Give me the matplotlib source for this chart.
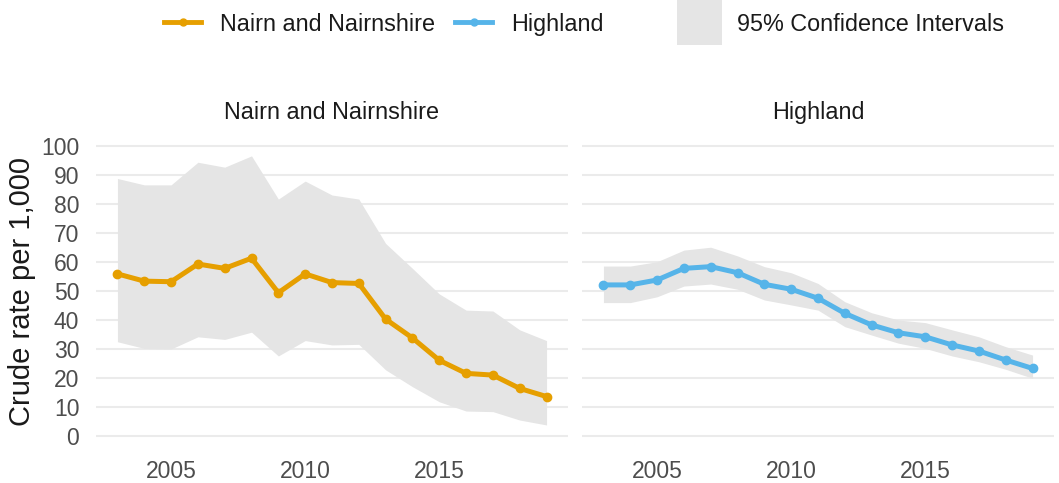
import matplotlib
matplotlib.use('Agg')
import matplotlib.pyplot as plt
from matplotlib.lines import Line2D
from matplotlib.patches import Rectangle

plt.rcParams['font.family'] = ['Liberation Sans', 'DejaVu Sans']

years = list(range(2003, 2020))

nairn_rate = [55.9, 53.4, 53.2, 59.3, 57.8, 61.3, 49.4, 55.9, 52.9, 52.6,
              40.3, 33.8, 26.1, 21.6, 21.0, 16.4, 13.6]
nairn_lower = [32.5, 30.2, 30.0, 34.2, 33.3, 35.8, 27.6, 32.9, 31.4, 31.6,
               22.8, 17.0, 11.8, 8.6, 8.4, 5.5, 3.8]
nairn_upper = [88.8, 86.6, 86.6, 94.4, 92.7, 96.6, 81.7, 87.9, 83.1, 81.7,
               66.4, 57.8, 49.0, 43.4, 43.1, 36.6, 32.9]

highland_rate = [52.1, 52.1, 53.8, 57.8, 58.4, 56.3, 52.3, 50.6, 47.5, 42.3,
                 38.3, 35.6, 34.2, 31.4, 29.3, 26.2, 23.3]
highland_lower = [46.0, 46.0, 48.0, 51.7, 52.4, 50.6, 46.9, 45.2, 43.4, 37.7,
                  34.8, 32.0, 30.2, 27.6, 25.6, 23.0, 19.9]
highland_upper = [58.6, 58.6, 60.1, 64.1, 65.1, 62.1, 58.4, 56.3, 52.6, 46.3,
                  42.5, 40.0, 39.1, 36.6, 34.2, 30.8, 27.9]

panel_titles = ['Nairn and Nairnshire', 'Highland']
legend_labels = ['Nairn and Nairnshire', 'Highland', '95% Confidence Intervals']
x_ticks = [2005, 2010, 2015]
y_ticks = list(range(0, 101, 10))
y_label = 'Crude rate per 1,000'

ORANGE = '#E69F00'
BLUE = '#56B4E9'
RIBBON = '#E5E5E5'
GRID = '#EBEBEB'
TICK_COL = '#4D4D4D'
TEXT_COL = '#1A1A1A'

W, H = 1059, 483
fig = plt.figure(figsize=(W / 100, H / 100), dpi=100)

bottom = (H - 450.5) / H
height = 319 / H
ax1 = fig.add_axes([96 / W, bottom, 472 / W, height])
ax2 = fig.add_axes([582 / W, bottom, 472 / W, height])

series = [
    (ax1, nairn_rate, nairn_lower, nairn_upper, ORANGE, panel_titles[0]),
    (ax2, highland_rate, highland_lower, highland_upper, BLUE, panel_titles[1]),
]

for ax, rate, lo, hi, col, title in series:
    ax.fill_between(years, lo, hi, color=RIBBON, linewidth=0, zorder=2)
    ax.plot(years, rate, color=col, linewidth=3.6, marker='o', markersize=6,
            zorder=3, solid_capstyle='round')
    ax.set_xlim(2002.2, 2019.8)
    ax.set_ylim(-5, 105)
    ax.set_xticks(x_ticks)
    ax.set_yticks(y_ticks)
    ax.set_xticklabels([str(t) for t in x_ticks])
    ax.grid(axis='y', color=GRID, linewidth=1.5, zorder=0)
    ax.grid(axis='x', visible=False)
    ax.set_axisbelow(True)
    for s in ax.spines.values():
        s.set_visible(False)
    ax.tick_params(axis='both', length=0, labelsize=16.5, labelcolor=TICK_COL)
    ax.tick_params(axis='x', pad=7)
    ax.tick_params(axis='y', pad=12)
    ax.set_title(title, fontsize=16.8, color=TEXT_COL, pad=9)
    ax.set_facecolor('white')

ax1.set_yticklabels([str(t) for t in y_ticks])
ax2.tick_params(axis='y', labelleft=False)

fig.text(22 / W, 1 - 291 / H, y_label, rotation=90, ha='center', va='center',
         fontsize=21, color=TEXT_COL)

# Legend
yc = 1 - 22 / H
fig.add_artist(Line2D([164 / W, 201 / W], [yc, yc], transform=fig.transFigure,
                      color=ORANGE, linewidth=3.5))
fig.add_artist(Line2D([182.5 / W], [yc], transform=fig.transFigure,
                      color=ORANGE, marker='o', markersize=5, linewidth=0))
fig.text(220 / W, yc, legend_labels[0], ha='left', va='center_baseline',
         fontsize=16.8, color=TEXT_COL)
fig.add_artist(Line2D([455 / W, 492 / W], [yc, yc], transform=fig.transFigure,
                      color=BLUE, linewidth=3.5))
fig.add_artist(Line2D([473.5 / W], [yc], transform=fig.transFigure,
                      color=BLUE, marker='o', markersize=5, linewidth=0))
fig.text(511 / W, yc, legend_labels[1], ha='left', va='center_baseline',
         fontsize=16.8, color=TEXT_COL)
fig.add_artist(Rectangle((677 / W, 1 - 45 / H), 45 / W, 45 / H,
                         transform=fig.transFigure, color=RIBBON, linewidth=0))
fig.text(737 / W, yc, legend_labels[2], ha='left', va='center_baseline',
         fontsize=16.8, color=TEXT_COL)

fig.savefig('out.png', dpi=100, facecolor='white')
